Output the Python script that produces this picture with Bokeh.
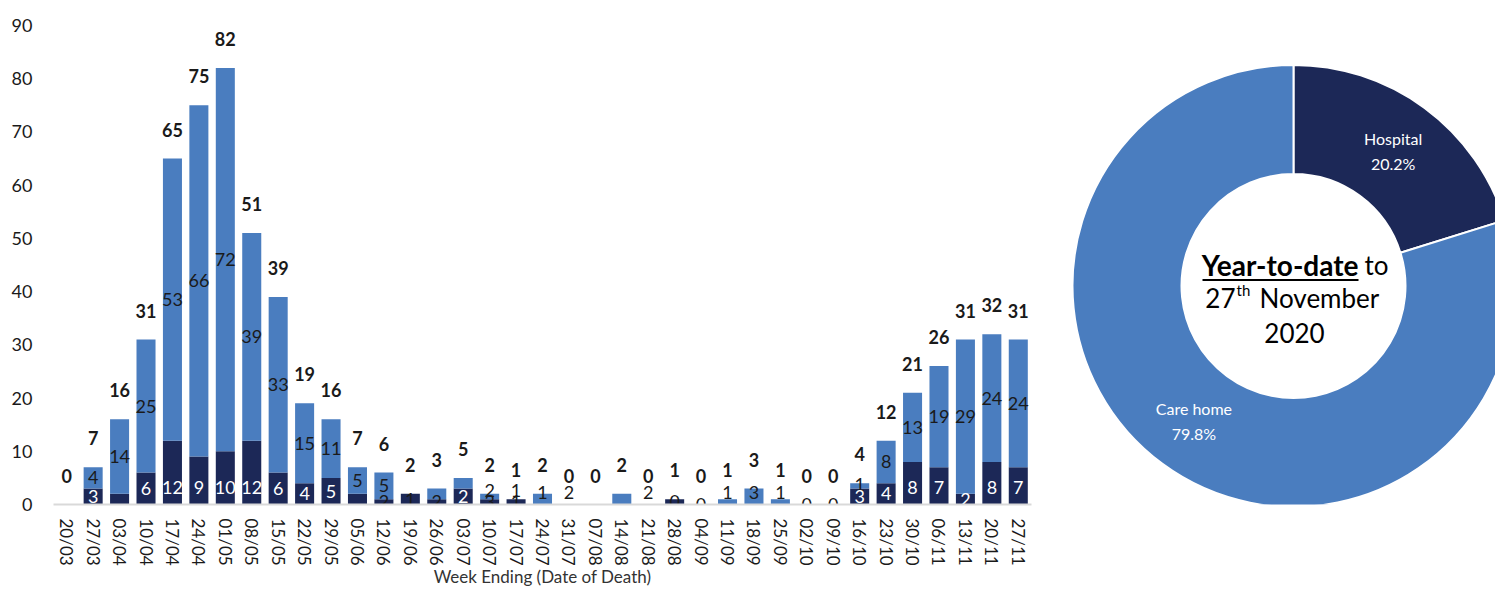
import numpy as np
from bokeh.plotting import figure
from bokeh.models import ColumnDataSource, FactorRange, Range1d, FixedTicker
from bokeh.layouts import row
from bokeh.embed import file_html
from bokeh.resources import INLINE
from bokeh.core.properties import value

# ---------------- data ----------------
weeks = ["20/03", "27/03", "03/04", "10/04", "17/04", "24/04", "01/05", "08/05", "15/05",
         "22/05", "29/05", "05/06", "12/06", "19/06", "26/06", "03/07", "10/07", "17/07",
         "24/07", "31/07", "07/08", "14/08", "21/08", "28/08", "04/09", "11/09", "18/09",
         "25/09", "02/10", "09/10", "16/10", "23/10", "30/10", "06/11", "13/11", "20/11", "27/11"]
hospital = [0, 3, 2, 6, 12, 9, 10, 12, 6, 4, 5, 2, 1, 2, 1, 3, 1, 1, 0, 0, 0, 0, 0, 1, 0,
            0, 0, 0, 0, 0, 3, 4, 8, 7, 2, 8, 7]
care_home = [0, 4, 14, 25, 53, 66, 72, 39, 33, 15, 11, 5, 5, 0, 2, 2, 1, 0, 2, 0, 0, 2, 0, 0, 0,
             1, 3, 1, 0, 0, 1, 8, 13, 19, 29, 24, 24]
total_labels = ["0", "7", "16", "31", "65", "75", "82", "51", "39", "19", "16", "7", "6", "2", "3",
                "5", "2", "1", "2", "0", "0", "2", "0", "1", "0", "1", "3", "1", "0", "0", "4",
                "12", "21", "26", "31", "32", "31"]
hospital_labels = ["", "3", "", "6", "12", "9", "10", "12", "6", "4", "5", "", "2", "1", "2",
                   "2", "3", "1", "", "", "", "", "", "0", "0", "", "", "", "0", "0", "3",
                   "4", "8", "7", "2", "8", "7"]
care_labels = ["", "4", "14", "25", "53", "66", "72", "39", "33", "15", "11", "5", "5", "", "",
               "", "2", "1", "1", "2", "", "", "2", "", "", "1", "3", "1", "", "", "1",
               "8", "13", "19", "29", "24", "24"]
y_ticks = [0, 10, 20, 30, 40, 50, 60, 70, 80, 90]
x_title = "Week Ending (Date of Death)"

share_names = ["Hospital", "Care home"]
share_pct = [20.2, 79.8]
share_labels = ["20.2%", "79.8%"]

# ---------------- styles ----------------
DARK = "#1c2857"
LIGHT = "#4a7dbf"
FONT = "Lato"
TXT = "#1a1a1a"

H_ALL = 589
TOP = 10
BOTTOM = 84
W1 = 1047
FRAME_H = H_ALL - TOP - BOTTOM          # 495 px
Y_TOP = 90 + (25 - TOP) * 90.0 / (TOP + FRAME_H - 25)

h = np.array(hospital, dtype=float)
c = np.array(care_home, dtype=float)
tot = h + c
hosp_y = np.minimum(h / 2.0, 3.2)
care_y = np.maximum(h + c / 2.0, hosp_y + 2.2)
hosp_col = ["white" if (hh >= 2 and tt >= 4) else TXT for hh, tt in zip(h, tot)]

src = ColumnDataSource(dict(
    week=weeks, hospital=hospital, care_home=care_home, total=tot,
    total_label=total_labels, hosp_label=hospital_labels, care_label=care_labels,
    hosp_y=hosp_y, care_y=care_y, hosp_col=hosp_col,
))

p = figure(x_range=FactorRange(*weeks), y_range=Range1d(0, Y_TOP),
           width=W1, height=H_ALL, output_backend="svg", toolbar_location=None,
           min_border_left=53, min_border_right=W1 - 53 - 978,
           min_border_top=TOP, min_border_bottom=BOTTOM)
p.x_range.range_padding = 0

p.vbar_stack(["hospital", "care_home"], x="week", width=0.72, source=src,
             fill_color=[DARK, LIGHT], line_color=None)

p.text(x="week", y="total", text="total_label", source=src, text_align="center",
       text_baseline="middle", y_offset=-29, text_font=value(FONT), text_font_size="18px",
       text_font_style="bold", text_color=TXT)
p.text(x="week", y="care_y", text="care_label", source=src, text_align="center",
       text_baseline="middle", text_font=value(FONT), text_font_size="18px", text_color=TXT)
p.text(x="week", y="hosp_y", text="hosp_label", source=src, text_align="center",
       text_baseline="middle", text_font=value(FONT), text_font_size="18px",
       text_color="hosp_col")

p.xgrid.grid_line_color = None
p.ygrid.grid_line_color = None
p.outline_line_color = None

p.yaxis.ticker = FixedTicker(ticks=y_ticks)
p.yaxis.axis_line_color = None
p.yaxis.major_tick_line_color = None
p.yaxis.minor_tick_line_color = None
p.yaxis.major_label_text_font = FONT
p.yaxis.major_label_text_font_size = "18px"
p.yaxis.major_label_text_color = TXT
p.yaxis.major_label_standoff = 15

p.xaxis.axis_line_color = "#d9d9d9"
p.xaxis.axis_line_width = 2
p.xaxis.major_tick_line_color = None
p.xaxis.minor_tick_line_color = None
p.xaxis.major_label_orientation = -np.pi / 2
p.xaxis.major_label_text_font = FONT
p.xaxis.major_label_text_font_size = "17px"
p.xaxis.major_label_text_color = TXT
p.xaxis.major_label_standoff = 8
p.xaxis.axis_label = x_title
p.xaxis.axis_label_text_font = FONT
p.xaxis.axis_label_text_font_size = "17px"
p.xaxis.axis_label_text_font_style = "normal"
p.xaxis.axis_label_text_color = "#333333"
p.xaxis.axis_label_standoff = -3

# ---------------- donut ----------------
W2 = 1495 - W1
d = figure(width=W2, height=H_ALL, x_range=Range1d(0, W2), y_range=Range1d(0, FRAME_H),
           output_backend="svg", toolbar_location=None,
           min_border_left=0, min_border_right=0, min_border_top=TOP, min_border_bottom=BOTTOM,
           x_axis_location=None, y_axis_location=None)
d.xgrid.grid_line_color = None
d.ygrid.grid_line_color = None
d.outline_line_color = None


def px(page_x):
    return page_x - W1


def py(page_y):
    return TOP + FRAME_H - page_y


cx, cy = px(1293), py(286)
R_IN, R_OUT = 112, 221
fr = np.array(share_pct) / sum(share_pct)
ends_cum = np.cumsum(fr)
starts = np.pi / 2 - 2 * np.pi * np.concatenate([[0], ends_cum[:-1]])
ends = np.pi / 2 - 2 * np.pi * ends_cum
mids = (starts + ends) / 2
dsrc = ColumnDataSource(dict(name=share_names, start=starts, end=ends,
                             color=[DARK, LIGHT], pct=share_labels,
                             lx=cx + 168 * np.cos(mids), ly=cy + 168 * np.sin(mids)))
d.annular_wedge(x=cx, y=cy, inner_radius=R_IN, outer_radius=R_OUT, start_angle="start",
                end_angle="end", direction="clock", fill_color="color", line_color="white",
                line_width=2, source=dsrc)
d.text(x="lx", y="ly", text="name", source=dsrc, y_offset=-12, text_align="center",
       text_baseline="middle", text_font=value(FONT), text_font_size="16px", text_color="white")
d.text(x="lx", y="ly", text="pct", source=dsrc, y_offset=13, text_align="center",
       text_baseline="middle", text_font=value(FONT), text_font_size="16px", text_color="white")

# centre text
d.text(x=[px(1358)], y=[py(265)], text=["Year-to-date"], text_align="right",
       text_baseline="middle", text_font=value(FONT), text_font_size="28px",
       text_font_style="bold", text_color="black")
d.text(x=[px(1364)], y=[py(265)], text=["to"], text_align="left", text_baseline="middle",
       text_font=value(FONT), text_font_size="26px", text_color="black")
d.segment(x0=[px(1202)], y0=[py(280)], x1=[px(1358)], y1=[py(280)], line_color="black",
          line_width=2)
d.text(x=[px(1235)], y=[py(298)], text=["27"], text_align="right", text_baseline="middle",
       text_font=value(FONT), text_font_size="26px", text_color="black")
d.text(x=[px(1236)], y=[py(290)], text=["th"], text_align="left", text_baseline="middle",
       text_font=value(FONT), text_font_size="15px", text_color="black")
d.text(x=[px(1259)], y=[py(298)], text=["November"], text_align="left", text_baseline="middle",
       text_font=value(FONT), text_font_size="26px", text_color="black")
d.text(x=[px(1294)], y=[py(333)], text=["2020"], text_align="center", text_baseline="middle",
       text_font=value(FONT), text_font_size="26px", text_color="black")

layout = row(p, d, spacing=0)
open("out.html", "w").write(file_html(layout, INLINE))
